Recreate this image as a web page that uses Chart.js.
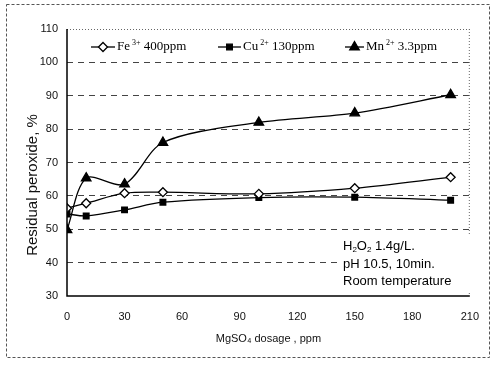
<!DOCTYPE html>
<html>
<head>
<meta charset="utf-8">
<script src="https://cdn.jsdelivr.net/npm/chart.js@4/dist/chart.umd.min.js"></script>
<style>
  html, body { margin: 0; padding: 0; background: #fff; }
  #wrap { width: 493px; height: 366px; position: relative; }
</style>
</head>
<body>
<div id="wrap"><canvas id="chart" width="493" height="366"></canvas></div>
<script>
// data
const dosage = [0, 10, 30, 50, 100, 150, 200];
const feValues = [56.3, 57.8, 60.8, 61.1, 60.6, 62.3, 65.6];
const cuValues = [54.6, 54.0, 55.8, 58.1, 59.5, 59.6, 58.7];
const mnValues = [49.8, 65.3, 63.5, 76.0, 82.0, 84.8, 90.3];
const xTicks = [0, 30, 60, 90, 120, 150, 180, 210];
const yTicks = [30, 40, 50, 60, 70, 80, 90, 100, 110];

function toPoints(values) {
    return dosage.map((d, i) => ({ x: d, y: values[i] }));
}

// draw text with super/subscript pieces: [text, shift] (shift: 0 normal, 1 sup, -1 sub)
function drawRich(ctx, x, y, parts, size, family) {
    ctx.textBaseline = 'middle';
    ctx.textAlign = 'left';
    parts.forEach(([t, shift]) => {
        const s = shift ? Math.round(size * 0.62) : size;
        ctx.font = s + 'px ' + family;
        const dy = shift === 1 ? -size * 0.35 : shift === -1 ? size * 0.3 : 0;
        ctx.fillText(t, x, y + dy);
        x += ctx.measureText(t).width;
    });
}

const decorPlugin = {
    id: 'decor',
    beforeDraw(chart) {
        const ctx = chart.ctx;
        ctx.save();
        ctx.fillStyle = '#fff';
        ctx.fillRect(0, 0, chart.width, chart.height);
        // outer frame
        ctx.strokeStyle = '#555';
        ctx.lineWidth = 1;
        ctx.setLineDash([3, 2]);
        ctx.strokeRect(6.5, 4.5, 483, 353);
        ctx.restore();
    },
    afterDatasetsDraw(chart) {
        const ctx = chart.ctx;
        const a = chart.chartArea;
        ctx.save();
        // plot frame: dotted top and right, solid left and bottom
        ctx.strokeStyle = '#666';
        ctx.lineWidth = 1;
        ctx.setLineDash([1, 2]);
        ctx.beginPath();
        ctx.moveTo(a.left, a.top + 0.5); ctx.lineTo(a.right, a.top + 0.5);
        ctx.moveTo(a.right - 0.5, a.top); ctx.lineTo(a.right - 0.5, a.bottom);
        ctx.stroke();
        ctx.setLineDash([]);

        // conditions note on a white box
        ctx.fillStyle = '#fff';
        ctx.fillRect(337, 236, 134, 56);
        ctx.fillStyle = '#000';
        const fam = '"Liberation Sans", Arial, sans-serif';
        drawRich(ctx, 343, 246, [['H', 0], ['2', -1], ['O', 0], ['2', -1], [' 1.4g/L.', 0]], 13, fam);
        drawRich(ctx, 343, 264, [['pH 10.5, 10min.', 0]], 13, fam);
        drawRich(ctx, 343, 281, [['Room temperature', 0]], 13, fam);

        ctx.strokeStyle = '#000';
        ctx.lineWidth = 1.5;
        ctx.beginPath();
        ctx.moveTo(a.left, a.top); ctx.lineTo(a.left, a.bottom);
        ctx.lineTo(a.right, a.bottom);
        ctx.stroke();

        // legend inside the plot
        const ly = 47;
        const legend = [
            { x0: 91, x1: 115, style: 'rectRot', r: 4.5, fill: '#fff', parts: [['Fe', 0], [' 3+', 1], [' 400ppm', 0]] },
            { x0: 218, x1: 241, style: 'rect', r: 4, fill: '#000', parts: [['Cu', 0], [' 2+', 1], [' 130ppm', 0]] },
            { x0: 345, x1: 364, style: 'triangle', r: 5.5, fill: '#000', parts: [['Mn', 0], [' 2+', 1], [' 3.3ppm', 0]] }
        ];
        legend.forEach(item => {
            ctx.strokeStyle = '#000';
            ctx.lineWidth = 1.3;
            ctx.beginPath();
            ctx.moveTo(item.x0, ly); ctx.lineTo(item.x1, ly);
            ctx.stroke();
            ctx.fillStyle = item.fill;
            Chart.helpers.drawPoint(ctx, { pointStyle: item.style, radius: item.r, borderWidth: 1.3 },
                (item.x0 + item.x1) / 2, ly);
            ctx.fillStyle = '#000';
            drawRich(ctx, item.x1 + 2, ly, item.parts, 13, '"Liberation Serif", serif');
        });

        // y axis title
        ctx.translate(33, 185);
        ctx.rotate(-Math.PI / 2);
        ctx.textAlign = 'center';
        ctx.textBaseline = 'middle';
        ctx.font = '15px "Liberation Sans", Arial, sans-serif';
        ctx.fillStyle = '#111';
        ctx.fillText('Residual peroxide, %', 0, 0);
        ctx.restore();
    }
};

const lineStyle = {
    borderColor: '#000',
    borderWidth: 1.3,
    pointBorderColor: '#000',
    pointBorderWidth: 1.3,
    showLine: true,
    tension: 0.3,
    fill: false
};

new Chart(document.getElementById('chart'), {
    type: 'scatter',
    data: {
        datasets: [
            Object.assign({ label: 'Fe3+ 400ppm', data: toPoints(feValues), pointStyle: 'rectRot', pointRadius: 4.5, pointBackgroundColor: '#fff' }, lineStyle),
            Object.assign({ label: 'Cu2+ 130ppm', data: toPoints(cuValues), pointStyle: 'rect', pointRadius: 4, pointBackgroundColor: '#000' }, lineStyle),
            Object.assign({ label: 'Mn2+ 3.3ppm', data: toPoints(mnValues), pointStyle: 'triangle', pointRadius: 5.5, pointBackgroundColor: '#000' }, lineStyle)
        ]
    },
    options: {
        responsive: false,
        animation: false,
        devicePixelRatio: 1,
        layout: { padding: { top: 29, right: 20, left: 0, bottom: 0 } },
        plugins: { legend: { display: false }, tooltip: { enabled: false } },
        scales: {
            x: {
                type: 'linear',
                min: 0,
                max: 210,
                afterBuildTicks: s => { s.ticks = xTicks.map(v => ({ value: v })); },
                afterFit: s => { s.height = 70; },
                grid: { display: false, drawTicks: false },
                border: { display: false },
                ticks: { padding: 14, color: '#111', font: { family: '"Liberation Sans", Arial, sans-serif', size: 11 } },
                title: {
                    display: true,
                    text: 'MgSO₄ dosage , ppm',
                    color: '#111',
                    padding: { top: 14, bottom: 20 },
                    font: { family: '"Liberation Sans", Arial, sans-serif', size: 11 }
                }
            },
            y: {
                min: 30,
                max: 110,
                afterBuildTicks: s => { s.ticks = yTicks.map(v => ({ value: v })); },
                afterFit: s => { s.width = 67; },
                grid: {
                    drawTicks: false,
                    color: ctx => (ctx.tick && (ctx.tick.value === 30 || ctx.tick.value === 110)) ? 'rgba(0,0,0,0)' : '#444',
                    lineWidth: 1
                },
                border: { display: false, dash: [6, 5] },
                ticks: { padding: 9, color: '#111', font: { family: '"Liberation Sans", Arial, sans-serif', size: 11 } }
            }
        }
    },
    plugins: [decorPlugin]
});
</script>
</body>
</html>
